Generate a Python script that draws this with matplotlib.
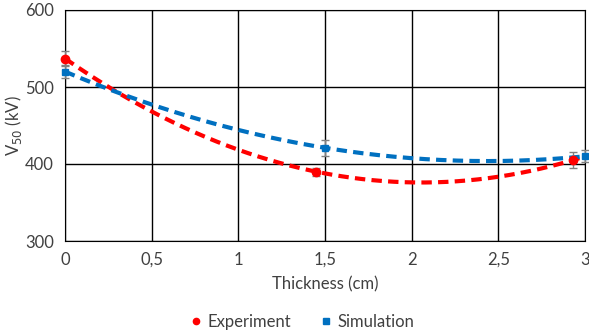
import numpy as np
import matplotlib.pyplot as plt
from matplotlib.lines import Line2D
from matplotlib.ticker import FuncFormatter

# measured V50 vs. thickness
exp_x = [0.0, 1.45, 2.93]
exp_v50 = [537, 390, 405]
exp_err = [10, 5, 10]

sim_x = [0.0, 1.5, 3.0]
sim_v50 = [520, 421, 410]
sim_err = [8, 10, 8]

x_ticks = [0, 0.5, 1, 1.5, 2, 2.5, 3]
y_ticks = [300, 400, 500, 600]

red = '#FF0000'
blue = '#0070C0'
txt = '#404040'

plt.rcParams['font.family'] = ['Lato', 'DejaVu Sans']

fig = plt.figure(figsize=(5.89, 3.32), dpi=100)
ax = fig.add_axes([65/589, 1 - 241/332, 520/589, 231/332])

# quadratic trend lines through the points
xs = np.linspace(0, 3, 200)
for x, y, col in [(exp_x, exp_v50, red), (sim_x, sim_v50, blue)]:
    p = np.polyfit(x, y, 2)
    ax.plot(xs, np.polyval(p, xs), color=col, linestyle=(0, (2.5, 1.5)),
            linewidth=3, zorder=3)

ax.errorbar(exp_x, exp_v50, yerr=exp_err, fmt='o', color=red,
            ecolor='#808080', elinewidth=1, capsize=3, markersize=6,
            zorder=4, clip_on=False)
ax.errorbar(sim_x, sim_v50, yerr=sim_err, fmt='s', color=blue,
            ecolor='#808080', elinewidth=1, capsize=3, markersize=5,
            zorder=4, clip_on=False)

ax.set_xlim(0, 3)
ax.set_ylim(300, 600)
ax.set_xticks(x_ticks)
ax.set_yticks(y_ticks)
ax.xaxis.set_major_formatter(FuncFormatter(lambda v, p: ('%g' % v).replace('.', ',')))
ax.grid(True, color='black', linewidth=1)
ax.set_axisbelow(True)
for s in ax.spines.values():
    s.set_color('black')
ax.tick_params(length=0, labelsize=12, colors=txt, pad=8)

ax.set_xlabel('Thickness (cm)', fontsize=12, color=txt, labelpad=6)
ax.set_ylabel('V$_{50}$ (kV)', fontsize=12, color=txt)
ax.yaxis.set_label_coords(-0.078, 0.5)

handles = [Line2D([], [], marker='o', color=red, linestyle='', markersize=4.5),
           Line2D([], [], marker='s', color=blue, linestyle='', markersize=4)]
fig.legend(handles, ['Experiment', 'Simulation'], loc='center',
           bbox_to_anchor=(300/589, 1 - 322/332), ncol=2, frameon=False,
           fontsize=12, handletextpad=0.1, columnspacing=1.5,
           labelcolor=txt, handlelength=1.2)

fig.savefig('out.png', dpi=100)
